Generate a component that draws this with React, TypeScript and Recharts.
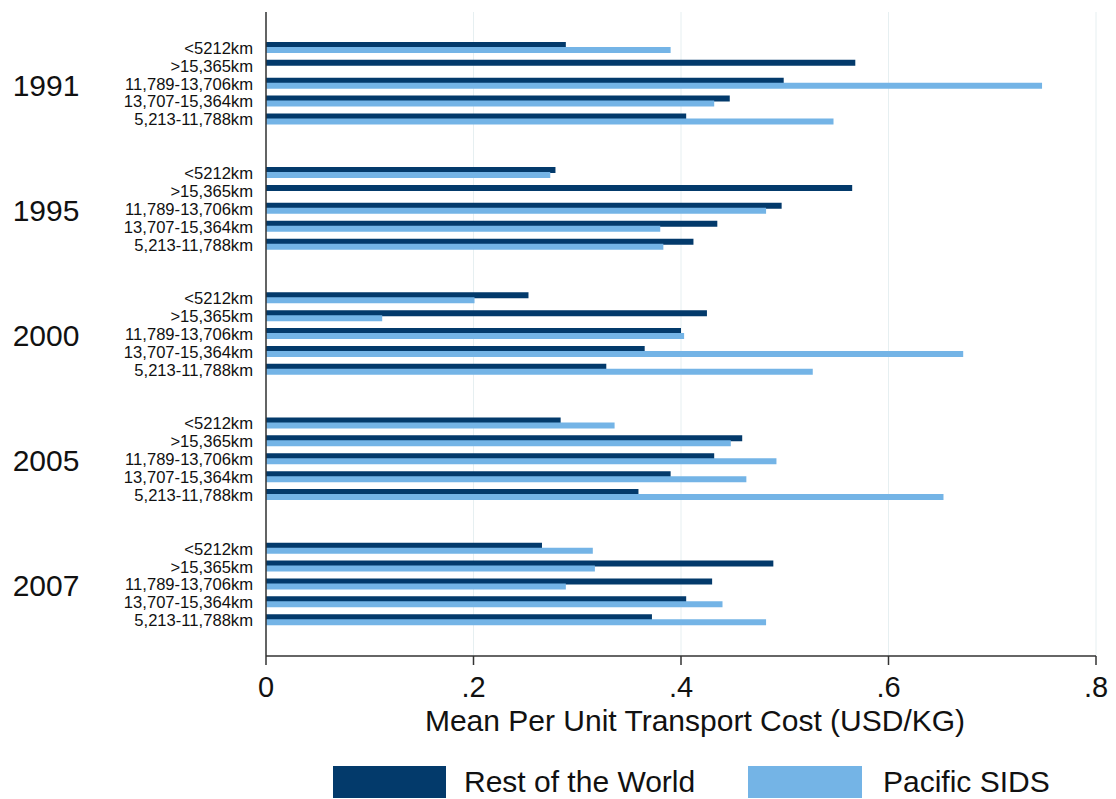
import React from "react";
import { BarChart, Bar, XAxis, YAxis, CartesianGrid } from "recharts";

// ---- data ----
const YEARS = ["1991", "1995", "2000", "2005", "2007"];
const DISTANCES = ["<5212km", ">15,365km", "11,789-13,706km", "13,707-15,364km", "5,213-11,788km"];

// Rest of the World, one array per year (same order as DISTANCES)
const ROW_1991 = [0.289, 0.568, 0.499, 0.447, 0.405];
const ROW_1995 = [0.279, 0.565, 0.497, 0.435, 0.412];
const ROW_2000 = [0.253, 0.425, 0.4, 0.365, 0.328];
const ROW_2005 = [0.284, 0.459, 0.432, 0.39, 0.359];
const ROW_2007 = [0.266, 0.489, 0.43, 0.405, 0.372];

// Pacific SIDS (null = no bar)
const SIDS_1991 = [0.39, null, 0.748, 0.432, 0.547];
const SIDS_1995 = [0.274, null, 0.482, 0.38, 0.383];
const SIDS_2000 = [0.201, 0.112, 0.403, 0.672, 0.527];
const SIDS_2005 = [0.336, 0.448, 0.492, 0.463, 0.653];
const SIDS_2007 = [0.315, 0.317, 0.289, 0.44, 0.482];

const X_TICKS = [0, 0.2, 0.4, 0.6, 0.8];

const ROW_SERIES = [ROW_1991, ROW_1995, ROW_2000, ROW_2005, ROW_2007];
const SIDS_SERIES = [SIDS_1991, SIDS_1995, SIDS_2000, SIDS_2005, SIDS_2007];

const DARK = "#033a6b";
const LIGHT = "#74b4e6";
const FONT = "'Liberation Sans', Arial, Helvetica, sans-serif";

type Row = { id: string; label: string; year: string; row: number | null; sids: number | null };

// build slots: blank, group, blank, blank, group, ... , blank
const rows: Row[] = [];
let gap = 0;
const blank = () => rows.push({ id: `gap${gap++}`, label: "", year: "", row: null, sids: null });
blank();
YEARS.forEach((y, gi) => {
  if (gi > 0) {
    blank();
    blank();
  }
  DISTANCES.forEach((d, di) => {
    rows.push({
      id: `${y}|${d}`,
      label: d,
      year: di === 2 ? y : "",
      row: ROW_SERIES[gi][di],
      sids: SIDS_SERIES[gi][di],
    });
  });
});
blank();

const YTick = (props: any) => {
  const { x, y, payload } = props;
  const r = rows.find((it) => it.id === payload.value);
  if (!r || !r.label) return null;
  return (
    <g>
      <text x={x} y={y} dy={6} textAnchor="end" fontSize={16.6} fill="#111" fontFamily={FONT}>
        {r.label}
      </text>
      {r.year && (
        <text x={46} y={y} dy={12} textAnchor="middle" fontSize={30} fill="#111" fontFamily={FONT}>
          {r.year}
        </text>
      )}
    </g>
  );
};

const fmtX = (v: number) => (v === 0 ? "0" : String(Number(v.toFixed(1))).replace(/^0/, ""));

export default function App() {
  return (
    <div style={{ position: "absolute", left: 0, top: 0, width: 1116, height: 799, background: "#fff", fontFamily: FONT }}>
      <BarChart
        width={1116}
        height={799}
        data={rows}
        layout="vertical"
        margin={{ top: 12, right: 20, left: 0, bottom: 59 }}
        barSize={6}
        barGap={-1}
      >
        <CartesianGrid horizontal={false} stroke="#e6eff1" strokeWidth={1} />
        <XAxis
          type="number"
          domain={[0, 0.8]}
          ticks={X_TICKS}
          tickFormatter={fmtX}
          height={84}
          tick={{ fontSize: 29, fill: "#111", fontFamily: FONT }}
          tickSize={9}
          tickMargin={11}
          axisLine={{ stroke: "#333", strokeWidth: 1.5 }}
          tickLine={{ stroke: "#333", strokeWidth: 1.5 }}
          label={{
            value: "Mean Per Unit Transport Cost (USD/KG)",
            position: "insideBottom",
            offset: 9,
            dx: 14,
            fontSize: 30,
            fill: "#111",
            fontFamily: FONT,
          }}
        />
        <YAxis
          type="category"
          dataKey="id"
          width={266}
          padding={{ top: 9, bottom: 9 }}
          interval={0}
          tick={<YTick />}
          tickLine={false}
          tickMargin={7}
          axisLine={{ stroke: "#333", strokeWidth: 1.5 }}
        />
        <Bar dataKey="row" name="Rest of the World" fill={DARK} isAnimationActive={false} />
        <Bar dataKey="sids" name="Pacific SIDS" fill={LIGHT} isAnimationActive={false} />
      </BarChart>
      <div style={{ position: "absolute", left: 333, top: 765, display: "flex", alignItems: "center" }}>
        <div style={{ width: 113, height: 32, background: DARK }} />
        <span style={{ marginLeft: 18, fontSize: 30, color: "#111", width: 284 }}>Rest of the World</span>
        <div style={{ width: 114, height: 32, background: LIGHT }} />
        <span style={{ marginLeft: 21, fontSize: 30, color: "#111" }}>Pacific SIDS</span>
      </div>
    </div>
  );
}
